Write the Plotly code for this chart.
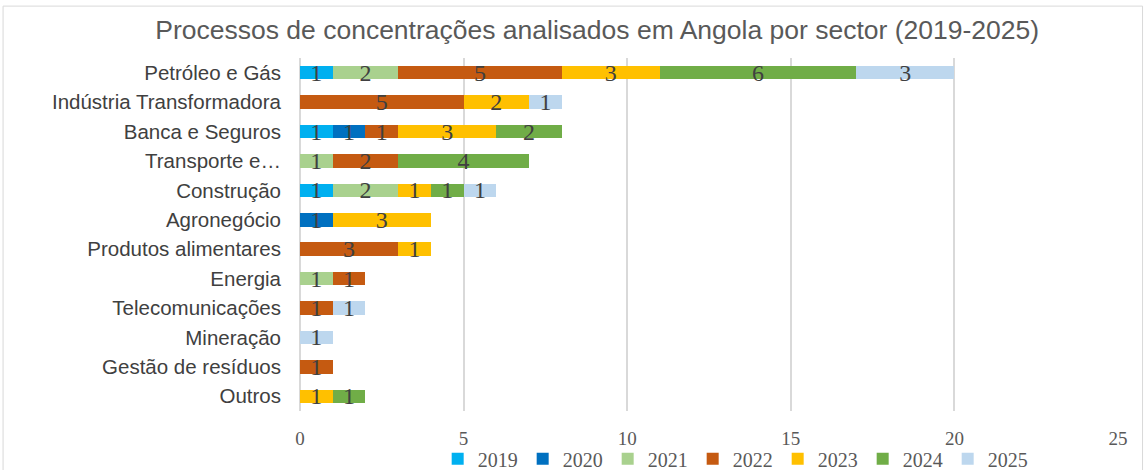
import plotly.graph_objects as go

categories = ["Petróleo e Gás", "Indústria Transformadora", "Banca e Seguros", "Transporte e…",
              "Construção", "Agronegócio", "Produtos alimentares", "Energia",
              "Telecomunicações", "Mineração", "Gestão de resíduos", "Outros"]
years = ["2019", "2020", "2021", "2022", "2023", "2024", "2025"]
colors = ["#00B0F0", "#0070C0", "#A9D18E", "#C55A11", "#FFC000", "#70AD47", "#BDD7EE"]

v2019 = [1, 0, 1, 0, 1, 0, 0, 0, 0, 0, 0, 0]
v2020 = [0, 0, 1, 0, 0, 1, 0, 0, 0, 0, 0, 0]
v2021 = [2, 0, 0, 1, 2, 0, 0, 1, 0, 0, 0, 0]
v2022 = [5, 5, 1, 2, 0, 0, 3, 1, 1, 0, 1, 0]
v2023 = [3, 2, 3, 0, 1, 3, 1, 0, 0, 0, 0, 1]
v2024 = [6, 0, 2, 4, 1, 0, 0, 0, 0, 0, 0, 1]
v2025 = [3, 1, 0, 0, 1, 0, 0, 0, 1, 1, 0, 0]
series = [v2019, v2020, v2021, v2022, v2023, v2024, v2025]

x_ticks = [0, 5, 10, 15, 20, 25]

fig = go.Figure()
for name, vals, col in zip(years, series, colors):
    fig.add_trace(go.Bar(
        y=categories, x=[v if v else None for v in vals], name=name, orientation="h",
        marker=dict(color=col, line=dict(width=0)),
        text=[str(v) if v else "" for v in vals],
        textposition="inside", insidetextanchor="middle", textangle=0,
        constraintext="none",
        textfont=dict(family="Liberation Serif", size=24, color="#404040"),
        hoverinfo="x+name+y",
    ))

fig.update_layout(
    barmode="stack", bargap=0.54,
    width=1144, height=470,
    margin=dict(l=300, r=26, t=58, b=59, autoexpand=False),
    paper_bgcolor="white", plot_bgcolor="white",
    title=dict(text="Processos de concentrações analisados em Angola por sector (2019-2025)",
               x=0.522, xref="container", xanchor="center", y=0.936, yanchor="middle",
               font=dict(family="Liberation Sans", size=26.5, color="#595959")),
    xaxis=dict(range=[0, 25], tickvals=x_ticks, showgrid=True, gridcolor="#D9D9D9", gridwidth=1.5,
               zeroline=True, zerolinecolor="#D9D9D9", zerolinewidth=1.5, showline=False,
               tickfont=dict(family="Liberation Serif", size=19, color="#595959"),
               ticklabelstandoff=14, automargin=False),
    yaxis=dict(categoryorder="array", categoryarray=categories, autorange="reversed",
               showgrid=False, showline=False, automargin=False,
               tickfont=dict(family="Liberation Sans", size=20.5, color="#404040"),
               ticklabelstandoff=18),
    legend=dict(orientation="h", x=0.532, xanchor="center", yref="container", y=0.024, yanchor="middle",
                font=dict(family="Liberation Serif", size=20, color="#595959"),
                traceorder="normal", bgcolor="rgba(0,0,0,0)"),
    showlegend=True,
    shapes=[dict(type="rect", xref="paper", yref="paper", x0=-0.363, x1=1.03, y0=-0.25, y1=1.147,
                 line=dict(color="#D9D9D9", width=1), layer="below")],
)

fig.write_html("out.html", config={"displayModeBar": False},
               post_script="document.body.style.margin='0';document.body.style.overflow='hidden';")
